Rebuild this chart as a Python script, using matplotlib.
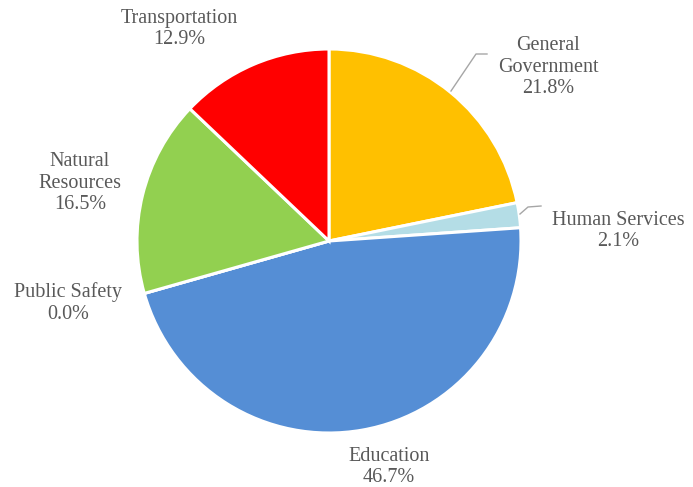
import matplotlib.pyplot as plt

# spending share by category, clockwise from 12 o'clock
categories = ['General\nGovernment', 'Human Services', 'Education',
              'Public Safety', 'Natural\nResources', 'Transportation']
shares = [21.8, 2.1, 46.7, 0.0, 16.5, 12.9]
colors = ['#FFC000', '#B4DDE6', '#558ED5', '#A5A5A5', '#92D050', '#FF0000']

# label centres in pixel space (x, y from top)
label_pos = [(548, 67), (618, 231), (389, 467), (68, 303), (80, 183), (179, 29)]

W, H = 693, 487
fig = plt.figure(figsize=(W / 100, H / 100), dpi=100)
ax = fig.add_axes([0, 0, 1, 1])

ax.pie(shares, colors=colors, startangle=90, counterclock=False,
       center=(329, H - 241), radius=192,
       wedgeprops=dict(edgecolor='white', linewidth=2.2))

# pie() resets the view, so fix the pixel frame afterwards
ax.set_xlim(0, W)
ax.set_ylim(0, H)
ax.set_aspect('equal')
ax.axis('off')

for cat, val, (x, y) in zip(categories, shares, label_pos):
    ax.text(x, H - y, f'{cat}\n{val:.1f}%', ha='center', va='center',
            fontsize=14.5, color='#595959', family='Liberation Serif',
            linespacing=1.2)

# leader lines
ax.plot([451, 476, 487], [H - 91, H - 54, H - 54], color='#A6A6A6', lw=1)
ax.plot([520, 528, 541], [H - 214, H - 207, H - 206], color='#A6A6A6', lw=1)

fig.savefig('out.png', dpi=100)
